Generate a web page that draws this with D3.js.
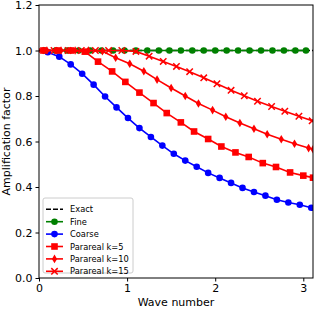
<!DOCTYPE html>
<html>
<head>
<meta charset="utf-8">
<script src="https://cdn.jsdelivr.net/npm/d3@7"></script>
<style>
  body { margin: 0; background: #fff; }
  text { font-family: "DejaVu Sans", sans-serif; }
</style>
</head>
<body>
<div id="chart"></div>
<script>
// values
var xTicks = [0, 1, 2, 3];
var yTicks = [0.0, 0.2, 0.4, 0.6, 0.8, 1.0, 1.2];

var exactX = [0, 3.11];
var exactY = [1.0, 1.0];

var fineX = [0.06, 0.19, 0.32, 0.45, 0.58, 0.71, 0.84, 0.97, 1.10, 1.23, 1.36, 1.48,
             1.61, 1.74, 1.87, 2.00, 2.13, 2.26, 2.39, 2.52, 2.65, 2.78, 2.91, 3.03];
var fineY = [1.0, 1.0, 1.0, 1.0, 1.0, 1.0, 1.0, 1.0, 1.0, 1.0, 1.0, 1.0,
             1.0, 1.0, 1.0, 1.0, 1.0, 1.0, 1.0, 1.0, 1.0, 1.0, 1.0, 1.0];

var coarseX = [0.10, 0.23, 0.36, 0.49, 0.62, 0.75, 0.88, 1.01, 1.14, 1.27, 1.40, 1.53,
               1.66, 1.79, 1.92, 2.05, 2.18, 2.31, 2.44, 2.57, 2.70, 2.83, 2.96, 3.09];
var coarseY = [0.992, 0.973, 0.939, 0.898, 0.850, 0.798, 0.750, 0.703, 0.659, 0.620, 0.582, 0.546,
               0.516, 0.489, 0.462, 0.440, 0.418, 0.396, 0.378, 0.362, 0.344, 0.332, 0.322, 0.309];

var k5X = [0.05, 0.21, 0.36, 0.52, 0.67, 0.83, 0.98, 1.14, 1.30, 1.45, 1.61, 1.76,
           1.92, 2.07, 2.23, 2.38, 2.54, 2.69, 2.85, 3.00, 3.11];
var k5Y = [1.0, 1.0, 1.0, 0.995, 0.951, 0.908, 0.862, 0.815, 0.769, 0.725, 0.684, 0.644,
           0.611, 0.578, 0.552, 0.532, 0.505, 0.488, 0.464, 0.450, 0.441];

var k10X = [0.09, 0.25, 0.41, 0.56, 0.72, 0.87, 1.03, 1.19, 1.34, 1.50, 1.66, 1.81,
            1.97, 2.12, 2.28, 2.44, 2.59, 2.75, 2.90, 3.06, 3.11];
var k10Y = [1.0, 1.0, 1.0, 1.0, 0.997, 0.968, 0.942, 0.909, 0.872, 0.835, 0.800, 0.767,
            0.738, 0.709, 0.681, 0.656, 0.632, 0.610, 0.590, 0.571, 0.566];

var k15X = [0.02, 0.17, 0.33, 0.48, 0.64, 0.79, 0.94, 1.10, 1.25, 1.41, 1.56, 1.71,
            1.87, 2.02, 2.18, 2.33, 2.48, 2.64, 2.79, 2.95, 3.10];
var k15Y = [1.0, 1.0, 1.0, 1.0, 1.0, 1.0, 1.0, 0.996, 0.975, 0.952, 0.930, 0.907,
            0.880, 0.854, 0.825, 0.801, 0.777, 0.754, 0.733, 0.711, 0.691];

var series = [
  {name: "Exact", xs: exactX, ys: exactY, color: "#000000", marker: "none", dash: "5,2"},
  {name: "Fine", xs: fineX, ys: fineY, color: "#008000", marker: "circle"},
  {name: "Coarse", xs: coarseX, ys: coarseY, color: "#0000ff", marker: "circle"},
  {name: "Parareal k=5", xs: k5X, ys: k5Y, color: "#ff0000", marker: "square"},
  {name: "Parareal k=10", xs: k10X, ys: k10Y, color: "#ff0000", marker: "diamond"},
  {name: "Parareal k=15", xs: k15X, ys: k15Y, color: "#ff0000", marker: "x"}
];

var W = 316, H = 309;
var margin = {top: 5, right: 3, bottom: 31, left: 39};
var width = W - margin.left - margin.right,
    height = H - margin.top - margin.bottom;

var svg = d3.select("#chart")
  .append("svg")
    .attr("width", W)
    .attr("height", H)
  .append("g")
    .attr("transform", "translate(" + margin.left + "," + margin.top + ")");

var x = d3.scaleLinear().domain([0, 3.11]).range([0, width]);
var y = d3.scaleLinear().domain([0, 1.2]).range([height, 0]);

svg.append("clipPath").attr("id", "clip")
  .append("rect").attr("width", width).attr("height", height);

// draw a marker of a given kind into a selection
function drawMarker(g, kind, color) {
  if (kind == "circle") {
    g.append("circle").attr("r", 3.3).attr("fill", color);
  } else if (kind == "square") {
    g.append("rect").attr("x", -3.3).attr("y", -3.3).attr("width", 6.6).attr("height", 6.6)
      .attr("fill", color);
  } else if (kind == "diamond") {
    g.append("path").attr("d", "M0,-4.3L2.6,0L0,4.3L-2.6,0Z").attr("fill", color);
  } else if (kind == "x") {
    g.append("path").attr("d", "M-3.2,-3.2L3.2,3.2M-3.2,3.2L3.2,-3.2")
      .attr("stroke", color).attr("stroke-width", 1.5).attr("fill", "none");
  }
}

var plot = svg.append("g").attr("clip-path", "url(#clip)");

var line = d3.line()
  .x(function(d) { return x(d[0]); })
  .y(function(d) { return y(d[1]); });

series.forEach(function(s) {
  var pts = s.xs.map(function(v, i) { return [v, s.ys[i]]; });
  plot.append("path")
    .datum(pts)
    .attr("fill", "none")
    .attr("stroke", s.color)
    .attr("stroke-width", 1.6)
    .attr("stroke-dasharray", s.dash || null)
    .attr("d", line);
  if (s.marker != "none") {
    pts.forEach(function(p) {
      var g = plot.append("g")
        .attr("transform", "translate(" + x(p[0]) + "," + y(p[1]) + ")");
      drawMarker(g, s.marker, s.color);
    });
  }
});

// Axes
svg.append("g")
  .attr("transform", "translate(0," + height + ")")
  .call(d3.axisBottom(x).tickValues(xTicks).tickFormat(d3.format("d")).tickSize(3.5).tickPadding(3))
  .call(function(g) { g.select(".domain").remove(); })
  .selectAll("text").style("font-size", "11px").style("font-family", "DejaVu Sans");

svg.append("g")
  .call(d3.axisLeft(y).tickValues(yTicks).tickFormat(d3.format(".1f")).tickSize(3.5).tickPadding(3))
  .call(function(g) { g.select(".domain").remove(); })
  .selectAll("text").style("font-size", "11px").style("font-family", "DejaVu Sans");

svg.append("rect")
  .attr("width", width).attr("height", height)
  .attr("fill", "none").attr("stroke", "#000").attr("stroke-width", 1);

svg.append("text")
  .attr("x", width / 2).attr("y", height + 28)
  .attr("text-anchor", "middle")
  .style("font-size", "11px")
  .text("Wave number");

svg.append("text")
  .attr("transform", "translate(" + (-29) + "," + (height / 2) + ") rotate(-90)")
  .attr("text-anchor", "middle")
  .style("font-size", "11px")
  .text("Amplification factor");

// Legend
var legend = svg.append("g").attr("transform", "translate(4,193)");
legend.append("rect")
  .attr("width", 90).attr("height", 75).attr("rx", 2)
  .attr("fill", "#fff").attr("fill-opacity", 0.8)
  .attr("stroke", "#cccccc").attr("stroke-width", 1);

series.forEach(function(s, i) {
  var row = legend.append("g").attr("transform", "translate(0," + (11.3 + i * 12.4) + ")");
  row.append("line")
    .attr("x1", 3).attr("x2", 20)
    .attr("stroke", s.color).attr("stroke-width", 1.6)
    .attr("stroke-dasharray", s.dash || null);
  var m = row.append("g").attr("transform", "translate(11.5,0)");
  drawMarker(m, s.marker, s.color);
  row.append("text")
    .attr("x", 27).attr("y", 3)
    .style("font-size", "8.3px")
    .text(s.name);
});
</script>
</body>
</html>
